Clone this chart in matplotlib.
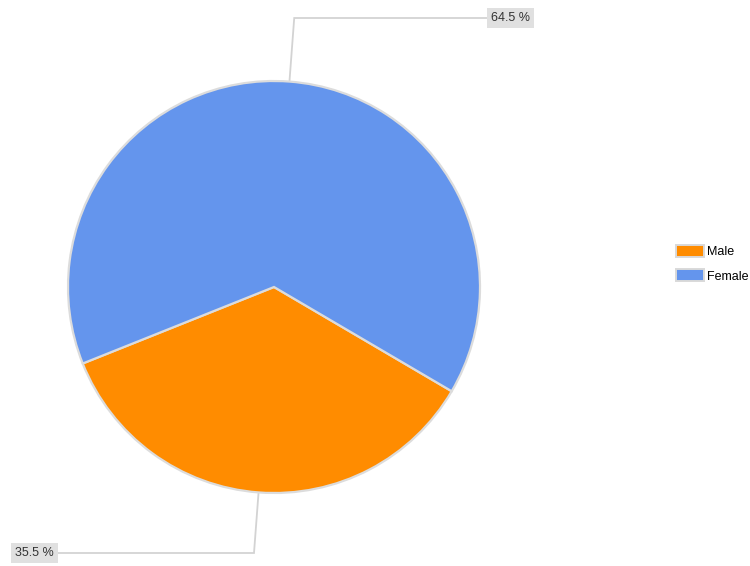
import numpy as np
import matplotlib.pyplot as plt
from matplotlib.patches import Patch

# gender split
labels = ["Male", "Female"]
shares = [35.5, 64.5]
colors = ["#ff8c00", "#6495ed"]

plt.rcParams["font.family"] = ["Liberation Sans", "DejaVu Sans"]

W, H = 750, 566
fig = plt.figure(figsize=(W / 100, H / 100), dpi=100)
ax = fig.add_axes([0, 0, 1, 1])

cx, cy, r = 274, 279, 206
wedges, _ = ax.pie(
    shares,
    colors=colors,
    startangle=201.8,
    counterclock=True,
    center=(cx, cy),
    radius=r,
    frame=True,
    wedgeprops=dict(edgecolor="#dcdcdc", linewidth=1.6),
)
ax.set_xlim(0, W)
ax.set_ylim(0, H)
ax.set_aspect("equal")
ax.axis("off")

# leader lines and value boxes: (box edge x, box y, side)
label_pos = {"Male": (58, 13, "right"), "Female": (487, 548, "left")}
for w, name, val in zip(wedges, labels, shares):
    mid = np.deg2rad((w.theta1 + w.theta2) / 2)
    x0, y0 = cx + r * np.cos(mid), cy + r * np.sin(mid)
    bx, by, side = label_pos[name]
    k = (by - cy) / np.sin(mid)
    x1, y1 = cx + k * np.cos(mid), by
    ax.plot([x0, x1, bx], [y0, y1, by], color="#d3d3d3", lw=1.3,
            solid_joinstyle="miter", zorder=0)
    tx = bx + 4 if side == "left" else bx - 4
    ax.text(tx, by, f"{val} %", ha=side, va="center", fontsize=9,
            color="#333333",
            bbox=dict(boxstyle="square,pad=0.32", fc="#e0e0e0", ec="none"))

handles = [Patch(facecolor=c, edgecolor="#d9d9d9", linewidth=1.4) for c in colors]
fig.legend(handles, labels, loc="upper left",
           bbox_to_anchor=(676 / W, 1 - 245 / H), frameon=False,
           fontsize=9, handlelength=2.2, handleheight=1.15,
           handletextpad=0.3, labelspacing=0.85, borderpad=0,
           borderaxespad=0)

fig.savefig("out.png", dpi=100)
